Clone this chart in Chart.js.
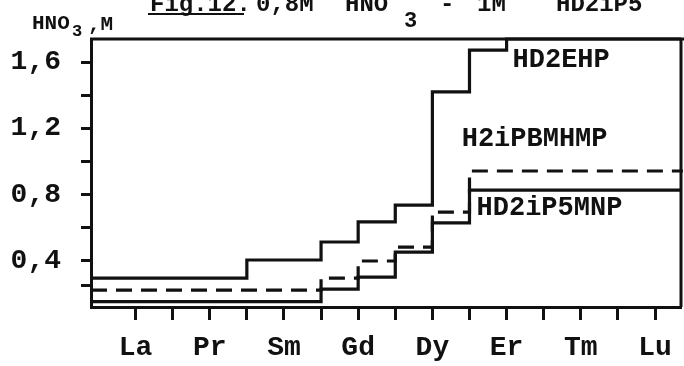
<!DOCTYPE html>
<html><head><meta charset="utf-8">
<script src="https://cdn.jsdelivr.net/npm/chart.js@4/dist/chart.umd.min.js"></script>
<style>html,body{margin:0;padding:0;background:#fff;}#wrap{width:684px;height:366px;}</style>
</head><body><div id="wrap"><canvas id="c" width="684" height="366"></canvas></div>
<script>
// Categories (lanthanide positions on x axis; labels on every other tick)
const elementLabels = ['La','','Pr','','Sm','','Gd','','Dy','','Er','','Tm','','Lu'];
const elementPositions = [0,1,2,3,4,5,6,7,8,9,10,11,12,13,14];
// Y ticks (HNO3, M)
const yTickValues = [0.25,0.4,0.6,0.8,1.0,1.2,1.4,1.6];
const yTickLabels = {40:'0,4',80:'0,8',120:'1,2',160:'1,6'};

// Step series: x = position where each level starts, y = HNO3 concentration
const hd2ehpX = [-1.2, 3, 5, 6, 7, 8, 9, 10, 14.7];
const hd2ehpY = [0.295, 0.404, 0.513, 0.634, 0.736, 1.42, 1.673, 1.74, 1.74];
const h2ipbmhmpX = [-1.2, 5, 6, 7, 8, 9, 14.75];
const h2ipbmhmpY = [0.222, 0.295, 0.398, 0.482, 0.694, 0.942, 0.942];
const hd2ip5mnpX = [-1.2, 5, 6, 7, 8, 9, 14.7];
const hd2ip5mnpY = [0.152, 0.228, 0.301, 0.452, 0.628, 0.827, 0.827];

const seriesNames = ['HD2EHP','H2iPBMHMP','HD2iP5MNP'];

const toPts = (xs, ys) => xs.map((x, i) => ({x, y: ys[i]}));
const FONT = '"Liberation Mono", "DejaVu Sans Mono", monospace';
const INK = '#111';

const framePlugin = {
  id: 'frame',
  afterDraw(chart) {
    const {ctx, chartArea: a, scales: {x, y}} = chart;
    ctx.save();
    ctx.strokeStyle = INK; ctx.lineWidth = 3;
    ctx.beginPath();
    ctx.moveTo(a.left - 1, a.top); ctx.lineTo(chart.width, a.top);
    ctx.moveTo(a.right, a.top); ctx.lineTo(a.right, a.bottom);
    ctx.stroke();
    // series annotations
    ctx.fillStyle = INK;
    ctx.font = 'bold 27px ' + FONT;
    ctx.textBaseline = 'middle';
    ctx.textAlign = 'left';
    const ann = [[seriesNames[0], 10.16, 1.613], [seriesNames[1], 8.79, 1.135], [seriesNames[2], 9.19, 0.718]];
    ann.forEach(([t, xv, yv]) => ctx.fillText(t, x.getPixelForValue(xv), y.getPixelForValue(yv)));
    // axis title
    ctx.textBaseline = 'alphabetic';
    ctx.font = 'bold 21px ' + FONT;
    ctx.fillText('HNO', 32, 29);
    ctx.font = 'bold 17px ' + FONT;
    ctx.fillText('3', 72, 36);
    ctx.font = 'bold 21px ' + FONT;
    ctx.fillText(',M', 88, 30);
    // clipped figure caption
    ctx.font = 'bold 24px ' + FONT;
    ctx.fillText('Fig.12.', 150, 11);
    ctx.fillText('0,8M', 256, 11);
    ctx.fillText('HNO', 345, 11);
    ctx.fillText('-', 440, 11);
    ctx.fillText('1M', 477, 11);
    ctx.fillText('HD2iP5', 556, 11);
    ctx.font = 'bold 22px ' + FONT;
    ctx.fillText('3', 404, 27);
    ctx.lineWidth = 2;
    ctx.beginPath(); ctx.moveTo(148, 14); ctx.lineTo(244, 14); ctx.stroke();
    ctx.restore();
  }
};

new Chart(document.getElementById('c'), {
  type: 'line',
  data: {
    datasets: [
      {label: seriesNames[0], data: toPts(hd2ehpX, hd2ehpY), borderColor: INK, borderWidth: 3.2, stepped: 'before', pointRadius: 0, fill: false, clip: false},
      {label: seriesNames[1], data: toPts(h2ipbmhmpX, h2ipbmhmpY), borderColor: INK, borderWidth: 3.2, borderDash: [16, 9], stepped: 'before', pointRadius: 0, fill: false, clip: false},
      {label: seriesNames[2], data: toPts(hd2ip5mnpX, hd2ip5mnpY), borderColor: INK, borderWidth: 3.2, stepped: 'before', pointRadius: 0, fill: false, clip: false}
    ]
  },
  options: {
    responsive: false, animation: false,
    layout: {padding: {top: 39, right: 3, left: 0, bottom: 0}},
    plugins: {legend: {display: false}, tooltip: {enabled: false}},
    scales: {
      x: {
        type: 'linear', min: -1.2, max: 14.7,
        afterBuildTicks: s => { s.ticks = elementPositions.map(v => ({value: v})); },
        afterFit: s => { s.height = 366 - 307; },
        ticks: {autoSkip: false, maxRotation: 0, color: INK, padding: 11,
          font: {family: FONT, size: 28, weight: 'bold'},
          callback: v => elementLabels[Math.round(v)] ?? ''},
        grid: {drawOnChartArea: false, drawTicks: true, tickLength: 13, tickWidth: 3, tickColor: INK},
        border: {display: true, color: INK, width: 3}
      },
      y: {
        min: 0.12, max: 1.74,
        afterBuildTicks: s => { s.ticks = yTickValues.map(v => ({value: v})); },
        afterFit: s => { s.width = 91; },
        ticks: {color: INK, padding: 20,
          font: {family: FONT, size: 28, weight: 'bold'},
          callback: v => yTickLabels[Math.round(v * 100)] ?? ''},
        grid: {drawOnChartArea: false, drawTicks: true, tickLength: 10, tickWidth: 3, tickColor: INK},
        border: {display: true, color: INK, width: 3}
      }
    }
  },
  plugins: [framePlugin]
});
</script></body></html>
